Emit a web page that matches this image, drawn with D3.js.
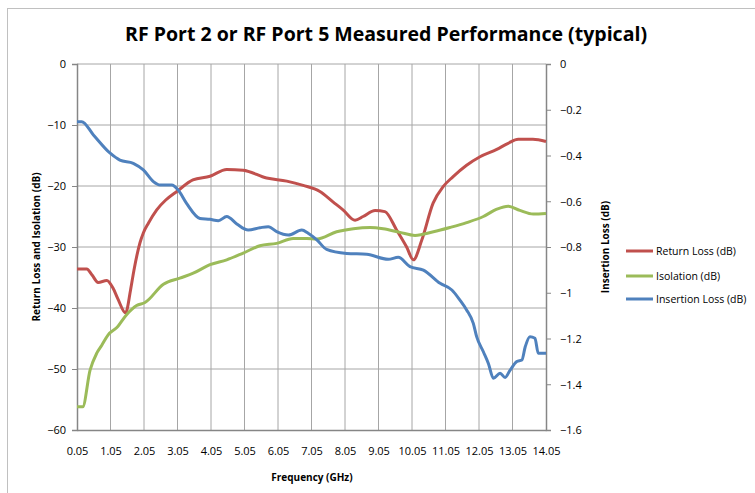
<!DOCTYPE html>
<html>
<head>
<meta charset="utf-8">
<script src="https://cdn.jsdelivr.net/npm/d3@7"></script>
<style>
  body { margin: 0; background: #fff; }
  svg text { font-family: "Open Sans", "Liberation Sans", sans-serif; fill: #000; }
</style>
</head>
<body>
<svg id="chart" width="755" height="493"></svg>
<script>
// Frequency (GHz) / value pairs
const returnLossFreq = [0.05, 0.34, 0.5, 0.68, 0.94, 1.12, 1.27, 1.5, 1.65, 1.75, 1.93, 2.03, 2.18, 2.43, 2.7, 3.03, 3.51, 4.02, 4.52, 5.01, 5.71, 6.31, 6.8, 7.3, 7.69, 7.99, 8.35, 8.59, 8.95, 9.24, 9.59, 9.89, 10.09, 10.34, 10.68, 10.98, 11.27, 11.68, 12.08, 12.58, 12.92, 13.22, 13.66, 14.05];
const returnLoss = [-33.6, -33.6, -34.6, -35.8, -35.5, -36.7, -38.5, -40.8, -37.0, -33.8, -29.3, -27.7, -26.1, -23.9, -22.3, -20.9, -19.0, -18.4, -17.3, -17.4, -18.7, -19.2, -19.9, -20.9, -22.6, -23.9, -25.6, -25.0, -24.0, -24.2, -27.2, -30.0, -32.1, -28.9, -22.8, -20.1, -18.5, -16.6, -15.2, -14.0, -13.0, -12.35, -12.35, -12.7];

const isolationFreq = [0.05, 0.22, 0.44, 0.64, 0.79, 0.98, 1.24, 1.53, 1.83, 2.08, 2.63, 3.12, 3.52, 4.02, 4.52, 5.01, 5.51, 6.01, 6.5, 6.91, 7.21, 7.8, 8.3, 8.8, 9.19, 9.69, 10.14, 10.69, 11.18, 11.68, 12.18, 12.58, 12.92, 13.27, 13.67, 14.05];
const isolation = [-56.2, -56.2, -50.2, -47.4, -46.1, -44.4, -43.2, -41.1, -39.6, -39.1, -36.1, -35.1, -34.3, -32.9, -32.1, -31.0, -29.8, -29.4, -28.6, -28.6, -28.7, -27.5, -27.0, -26.8, -27.0, -27.6, -28.1, -27.5, -26.8, -26.0, -25.0, -23.8, -23.3, -24.0, -24.6, -24.5];

const insertionFreq = [0.05, 0.19, 0.54, 1.04, 1.33, 1.73, 2.03, 2.33, 2.53, 2.88, 3.07, 3.32, 3.72, 4.02, 4.27, 4.52, 4.82, 5.16, 5.51, 5.76, 6.01, 6.36, 6.76, 6.95, 7.21, 7.5, 8.1, 8.7, 9.34, 9.64, 9.99, 10.39, 10.89, 11.24, 11.48, 11.68, 11.88, 11.98, 12.18, 12.33, 12.48, 12.68, 12.83, 12.98, 13.18, 13.33, 13.43, 13.57, 13.72, 13.82, 14.05];
const insertionLoss = [-0.252, -0.252, -0.31, -0.39, -0.42, -0.434, -0.463, -0.514, -0.529, -0.529, -0.551, -0.609, -0.675, -0.679, -0.685, -0.667, -0.699, -0.726, -0.716, -0.711, -0.733, -0.748, -0.726, -0.74, -0.769, -0.81, -0.828, -0.832, -0.854, -0.845, -0.886, -0.901, -0.959, -0.988, -1.032, -1.075, -1.134, -1.192, -1.258, -1.309, -1.374, -1.352, -1.37, -1.338, -1.301, -1.294, -1.236, -1.192, -1.199, -1.265, -1.265];

const xTicks = [0.05, 1.05, 2.05, 3.05, 4.05, 5.05, 6.05, 7.05, 8.05, 9.05, 10.05, 11.05, 12.05, 13.05, 14.05];
const leftTicks = [0, -10, -20, -30, -40, -50, -60];
const rightTicks = [0, -0.2, -0.4, -0.6, -0.8, -1, -1.2, -1.4, -1.6];

const seriesNames = ['Return Loss (dB)', 'Isolation  (dB)', 'Insertion Loss (dB)'];
const seriesColors = ['#c0504d', '#9bbb59', '#4f81bd'];

const plot = { left: 77, right: 546, top: 64, bottom: 430 };

const svg = d3.select('#chart');

// outer chart frame
svg.append('rect')
    .attr('x', 7.5).attr('y', 8.5)
    .attr('width', 760).attr('height', 500)
    .attr('fill', 'none')
    .attr('stroke', '#c0c0c0');

const x = d3.scaleLinear().domain([0.05, 14.05]).range([plot.left, plot.right]);
const yL = d3.scaleLinear().domain([-60, 0]).range([plot.bottom, plot.top]);
const yR = d3.scaleLinear().domain([-1.6, 0]).range([plot.bottom, plot.top]);

// grid lines
svg.append('g')
    .selectAll('line')
    .data(xTicks.slice(1, -1))
    .join('line')
    .attr('x1', d => x(d)).attr('x2', d => x(d))
    .attr('y1', plot.top).attr('y2', plot.bottom)
    .attr('stroke', '#a6a6a6');

svg.append('g')
    .selectAll('line')
    .data(leftTicks.slice(0, -1))
    .join('line')
    .attr('x1', plot.left).attr('x2', plot.right)
    .attr('y1', d => yL(d)).attr('y2', d => yL(d))
    .attr('stroke', '#a6a6a6');

// axes
const leftAxis = svg.append('g')
    .attr('transform', `translate(${plot.left},0)`)
    .call(d3.axisLeft(yL).tickValues(leftTicks).tickSize(5).tickPadding(6).tickFormat(d3.format('d')));

const rightAxis = svg.append('g')
    .attr('transform', `translate(${plot.right},0)`)
    .call(d3.axisRight(yR).tickValues(rightTicks).tickSize(5).tickPadding(9).tickFormat(d => d === 0 ? '0' : d3.format('')(d)));

const bottomAxis = svg.append('g')
    .attr('transform', `translate(0,${plot.bottom})`)
    .call(d3.axisBottom(x).tickValues(xTicks).tickSize(0).tickPadding(17).tickFormat(d3.format('.2f')));

[leftAxis, rightAxis, bottomAxis].forEach(a => {
  a.select('.domain').attr('stroke', '#868686').attr('stroke-width', 1.5);
  a.selectAll('.tick line').attr('stroke', '#868686');
  a.selectAll('.tick text')
      .style('font-family', '"Open Sans", sans-serif')
      .style('font-size', '11px')
      .attr('fill', '#000');
});
leftAxis.selectAll('.tick text').attr('dy', '0.35em');
rightAxis.selectAll('.tick text').attr('dy', '0.35em');

// series
const line = (scaleY) => d3.line()
    .x(d => x(d[0]))
    .y(d => scaleY(d[1]))
    .curve(d3.curveMonotoneX);

const series = [
  { xs: returnLossFreq, ys: returnLoss, scale: yL },
  { xs: isolationFreq, ys: isolation, scale: yL },
  { xs: insertionFreq, ys: insertionLoss, scale: yR }
];

series.forEach((s, i) => {
  svg.append('path')
      .datum(s.xs.map((f, j) => [f, s.ys[j]]))
      .attr('fill', 'none')
      .attr('stroke', seriesColors[i])
      .attr('stroke-width', 3)
      .attr('stroke-linejoin', 'round')
      .attr('d', line(s.scale));
});

// titles
svg.append('text')
    .attr('x', 386).attr('y', 41)
    .attr('text-anchor', 'middle')
    .style('font-size', '20px')
    .style('font-weight', 'bold')
    .style('font-family', '"Open Sans", sans-serif')
    .attr('textLength', 522)
    .attr('lengthAdjust', 'spacingAndGlyphs')
    .text('RF Port 2 or RF Port 5 Measured Performance (typical)');

svg.append('text')
    .attr('x', 312).attr('y', 481)
    .attr('text-anchor', 'middle')
    .style('font-size', '10px')
    .style('font-weight', 'bold')
    .text('Frequency (GHz)');

svg.append('text')
    .attr('transform', 'translate(40,247) rotate(-90)')
    .attr('text-anchor', 'middle')
    .style('font-size', '10px')
    .style('font-weight', 'bold')
    .text('Return Loss and  Isolation (dB)');

svg.append('text')
    .attr('transform', 'translate(609,247) rotate(-90)')
    .attr('text-anchor', 'middle')
    .style('font-size', '10px')
    .style('font-weight', 'bold')
    .text('Insertion Loss (dB)');

// legend
const legend = svg.append('g');
const legendY = [251, 276, 299];
seriesNames.forEach((name, i) => {
  legend.append('line')
      .attr('x1', 626).attr('x2', 653)
      .attr('y1', legendY[i]).attr('y2', legendY[i])
      .attr('stroke', seriesColors[i])
      .attr('stroke-width', 3);
  legend.append('text')
      .attr('x', 656).attr('y', legendY[i])
      .attr('dy', '0.35em')
      .style('font-size', '10.5px')
      .text(name);
});
</script>
</body>
</html>
